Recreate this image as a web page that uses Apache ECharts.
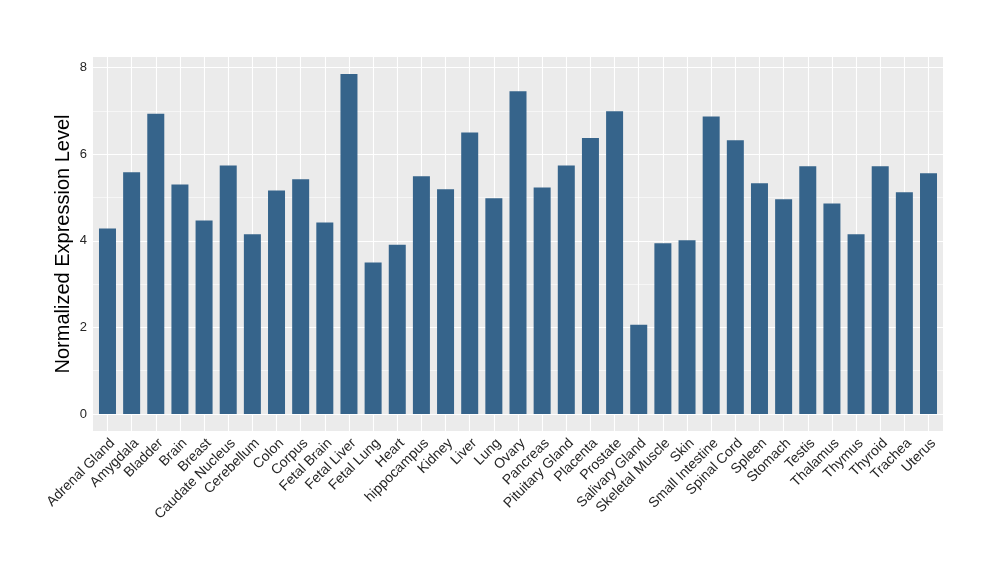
<!DOCTYPE html>
<html>
<head>
<meta charset="utf-8">
<script src="https://cdn.jsdelivr.net/npm/echarts@6/dist/echarts.min.js"></script>
<style>html,body{margin:0;padding:0;background:#fff}#c{width:1000px;height:580px}</style>
</head>
<body>
<div id="c"></div>
<script>
const categories = ["Adrenal Gland","Amygdala","Bladder","Brain","Breast","Caudate Nucleus","Cerebellum","Colon","Corpus","Fetal Brain","Fetal Liver","Fetal Lung","Heart","hippocampus","Kidney","Liver","Lung","Ovary","Pancreas","Pituitary Gland","Placenta","Prostate","Salivary Gland","Skeletal Muscle","Skin","Small Intestine","Spinal Cord","Spleen","Stomach","Testis","Thalamus","Thymus","Thyroid","Trachea","Uterus"];
const values = [4.28,5.58,6.93,5.30,4.47,5.74,4.15,5.16,5.42,4.42,7.85,3.50,3.91,5.49,5.19,6.50,4.98,7.45,5.23,5.74,6.37,6.99,2.06,3.94,4.01,6.87,6.32,5.33,4.96,5.72,4.86,4.15,5.72,5.12,5.56];
const yTicks = [0,2,4,6,8];
const yMinor = [1,3,5,7];
const yTitle = "Normalized Expression Level";

const idx = categories.map((_, i) => i);
const dataMax = Math.max(...values);
const pad = dataMax * 0.05;

const chart = echarts.init(document.getElementById('c'), null, {renderer: 'canvas'});
const gridLines = [];
yTicks.forEach(v => gridLines.push({yAxis: v, lineStyle: {color: '#ffffff', width: 1.1, type: 'solid'}}));
yMinor.forEach(v => gridLines.push({yAxis: v, lineStyle: {color: '#ffffff', width: 0.55, type: 'solid'}}));
idx.forEach(v => gridLines.push({xAxis: v, lineStyle: {color: '#ffffff', width: 1.1, type: 'solid'}}));

chart.setOption({
  animation: false,
  backgroundColor: '#ffffff',
  textStyle: {fontFamily: 'Liberation Sans, Arial, sans-serif'},
  grid: {left: 93, right: 57, top: 57, bottom: 149, show: true, backgroundColor: '#EBEBEB', borderWidth: 0, containLabel: false},
  xAxis: {
    type: 'value', min: -0.6, max: categories.length - 0.4,
    axisLine: {show: false},
    splitLine: {show: false},
    axisTick: {show: true, customValues: idx, length: 3, lineStyle: {color: '#333333', width: 1}},
    axisLabel: {show: true, customValues: idx, rotate: 45, margin: 5, color: '#262626', fontSize: 14,
      align: 'right', verticalAlign: 'top',
      fontFamily: 'Liberation Sans, Arial, sans-serif',
      formatter: v => categories[Math.round(v)]}
  },
  yAxis: {
    type: 'value', min: -pad, max: dataMax + pad,
    name: yTitle, nameLocation: 'middle', nameGap: 20, nameMoveOverlap: false,
    nameTextStyle: {fontSize: 20, color: '#000000', fontFamily: 'Liberation Sans, Arial, sans-serif'},
    axisLine: {show: false},
    splitLine: {show: false},
    axisTick: {show: true, customValues: yTicks, length: 3, lineStyle: {color: '#333333', width: 1}},
    axisLabel: {show: true, customValues: yTicks, margin: 6, color: '#262626', fontSize: 13,
      fontFamily: 'Liberation Sans, Arial, sans-serif', formatter: v => String(v)}
  },
  series: [
    {
      type: 'line', data: [], silent: true, symbol: 'none',
      markLine: {silent: true, symbol: 'none', z: 1, label: {show: false}, emphasis: {disabled: true}, animation: false, data: gridLines}
    },
    {
      type: 'bar', z: 3, barWidth: 17,
      itemStyle: {color: '#36648B'},
      data: idx.map(i => [i, values[i]])
    }
  ]
});
</script>
</body>
</html>
